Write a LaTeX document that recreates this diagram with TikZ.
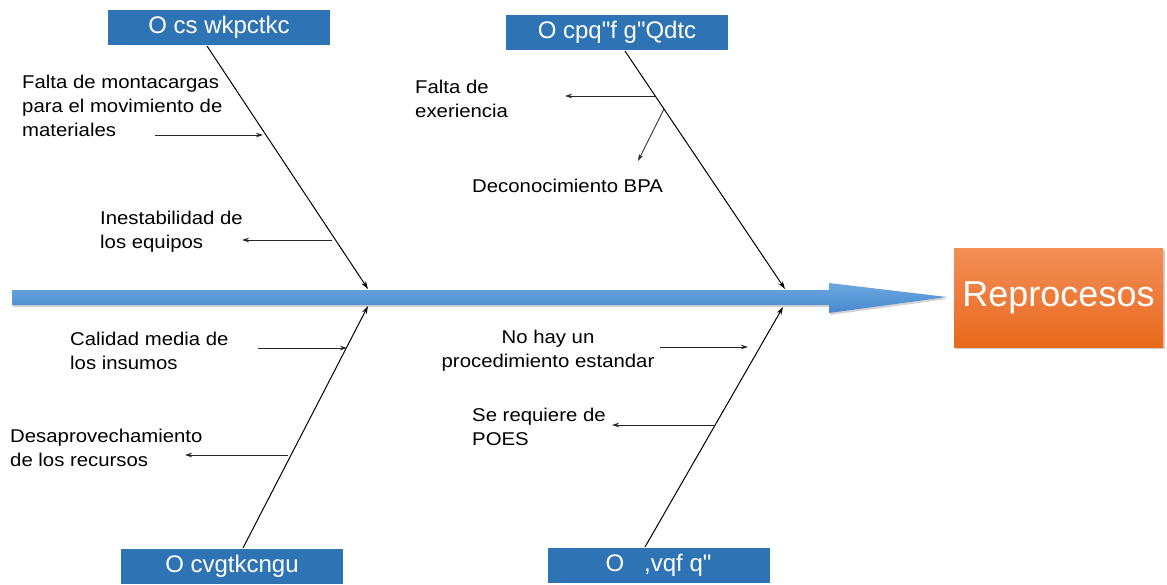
\documentclass[tikz,border=0pt]{standalone}
\usepackage{fontspec}
\setmainfont{Liberation Sans}
\newfontfamily\labfont[FakeStretch=1.1]{Liberation Sans}
\newfontfamily\catfont{Liberation Sans}
\usetikzlibrary{shadows,arrows.meta}
\definecolor{catblue}{HTML}{2E74B5}
\definecolor{spinetop}{HTML}{6AA8E2}
\definecolor{spinebot}{HTML}{4A8ACD}
\definecolor{orgtop}{HTML}{F28E58}
\definecolor{orgbot}{HTML}{E8691C}
\tikzset{
  catbox/.style={fill=catblue, text=white, minimum width=222pt, minimum height=35pt, inner sep=0pt,
    font={\catfont\fontsize{24}{28}\selectfont}},
  bone/.style={line width=1pt, -{Stealth[length=8pt,width=5pt]}},
  twig/.style={line width=0.8pt, draw=black!85, -{Stealth[length=7pt,width=4.5pt]}},
  lab/.style={inner sep=0pt, font={\labfont\fontsize{18.5}{24}\selectfont}},
}
\begin{document}
\begin{tikzpicture}[x=1pt,y=-1pt]
\useasboundingbox (0,0) rectangle (1167,584);
% spine
\path[top color=spinetop, bottom color=spinebot, drop shadow={shadow xshift=1pt, shadow yshift=-2pt, opacity=0.35}]
  (12,290) -- (829,290) -- (829,283) -- (947,297) -- (829,313) -- (829,305) -- (12,305) -- cycle;
% effect
\node[top color=orgtop, bottom color=orgbot, minimum width=209pt, minimum height=99pt, inner sep=0pt,
  text=white, font={\catfont\fontsize{36}{40}\selectfont},
  drop shadow={shadow xshift=2pt, shadow yshift=-2pt, opacity=0.4}] (eff) at (1058.5,297.5) {Reprocesos};
% category boxes
\node[catbox] (maq) at (219,27.5) {O cs wkpctkc};
\node[catbox] (mob) at (617,32) {O cpq"f g"Qdtc};
\node[catbox] (mat) at (232,566) {O cvgtkcngu};
\node[catbox] (met) at (658.5,565.5) {O\ \ \ ,vqf\ q"};
% bone coordinates
\coordinate (b1s) at (207,46);  \coordinate (b1e) at (368,289);
\coordinate (b2s) at (625,51);  \coordinate (b2e) at (785,289);
\coordinate (b3s) at (243,548); \coordinate (b3e) at (368,306);
\coordinate (b4s) at (645,547); \coordinate (b4e) at (783,307);
\draw[bone] (b1s) -- (b1e);
\draw[bone] (b2s) -- (b2e);
\draw[bone] (b3s) -- (b3e);
\draw[bone] (b4s) -- (b4e);
% labels
\node[lab, anchor=north west, align=left] (l1) at (22,74.8) {Falta de montacargas\\para el movimiento de\\materiales};
\node[lab, anchor=north west, align=left] (l2) at (100,210.8) {Inestabilidad de\\los equipos};
\node[lab, anchor=north west, align=left] (l3) at (415,79.8) {Falta de\\exeriencia};
\node[lab, anchor=north west, align=left] (l4) at (472,178.8) {Deconocimiento BPA};
\node[lab, anchor=north west, align=left] (l5) at (70,331.8) {Calidad media de\\los insumos};
\node[lab, anchor=north west, align=left] (l6) at (10,428.8) {Desaprovechamiento\\de los recursos};
\node[lab, anchor=north, align=center] (l7) at (548,329.8) {No hay un\\procedimiento estandar};
\node[lab, anchor=north west, align=left] (l8) at (472,407.8) {Se requiere de\\POES};
% twig coordinates
\coordinate (a1s) at (155,135); \coordinate (a1e) at (263,135);
\coordinate (a2s) at (332,240); \coordinate (a2e) at (242,240);
\coordinate (a3s) at (655,96);  \coordinate (a3e) at (565,96);
\coordinate (a4s) at (664,109); \coordinate (a4e) at (638,161);
\coordinate (a5s) at (258,348); \coordinate (a5e) at (347,348);
\coordinate (a6s) at (288,455); \coordinate (a6e) at (185,455);
\coordinate (a7s) at (660,347); \coordinate (a7e) at (748,347);
\coordinate (a8s) at (714,425); \coordinate (a8e) at (612,425);
\draw[twig] (a1s) -- (a1e);
\draw[twig] (a2s) -- (a2e);
\draw[twig] (a3s) -- (a3e);
\draw[twig] (a4s) -- (a4e);
\draw[twig] (a5s) -- (a5e);
\draw[twig] (a6s) -- (a6e);
\draw[twig] (a7s) -- (a7e);
\draw[twig] (a8s) -- (a8e);
\end{tikzpicture}
\end{document}
